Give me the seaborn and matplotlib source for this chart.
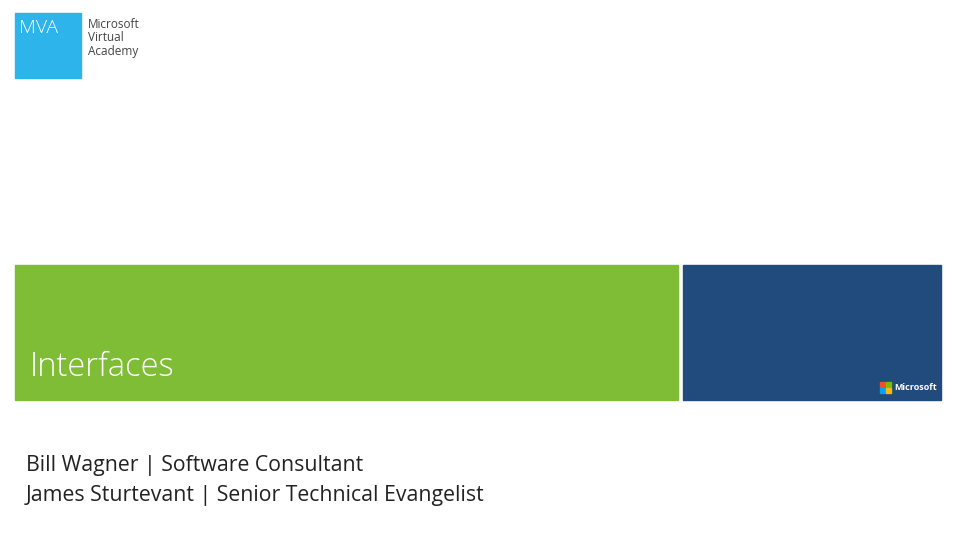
import matplotlib
matplotlib.use("Agg")
import matplotlib.pyplot as plt
import seaborn as sns
from matplotlib.patches import Rectangle

sns.set_theme(style="white")
plt.rcParams['font.family'] = ['Open Sans', 'DejaVu Sans']

title = "Interfaces"
presenters = ["Bill Wagner | Software Consultant",
              "James Sturtevant | Senior Technical Evangelist"]
brand_lines = ["Microsoft", "Virtual", "Academy"]
logo_colors = ["#f25022", "#7fba00", "#00a4ef", "#ffb900"]

fig = plt.figure(figsize=(9.6, 5.4), dpi=100)
ax = fig.add_axes([0, 0, 1, 1])
ax.set_xlim(0, 960); ax.set_ylim(540, 0); ax.axis("off")

ax.add_patch(Rectangle((15, 13), 66, 65, color="#2db4ea"))
ax.text(19, 28, "MVA", color="white", fontsize=14, va="center", fontweight="light")
for i, s in enumerate(brand_lines):
    ax.text(88, 24 + i * 13.5, s, color="#444444", fontsize=8.5, va="center")

ax.add_patch(Rectangle((15, 265), 663, 135, color="#80bd37"))
ax.add_patch(Rectangle((683, 265), 258, 135, color="#214a7d"))
ax.text(30, 367, title, color="white", fontsize=23.5, va="center", fontweight="light")

for i, (dx, dy) in enumerate([(0, 0), (6, 0), (0, 6), (6, 6)]):
    ax.add_patch(Rectangle((880 + dx, 382 + dy), 5, 5, color=logo_colors[i]))
ax.text(894, 388, "Microsoft", color="white", fontsize=6.5, va="center", fontweight="bold")

for i, s in enumerate(presenters):
    ax.text(26, 466 + i * 29, s, color="#222222", fontsize=15.3, va="center")

fig.savefig("out.png", dpi=100)
